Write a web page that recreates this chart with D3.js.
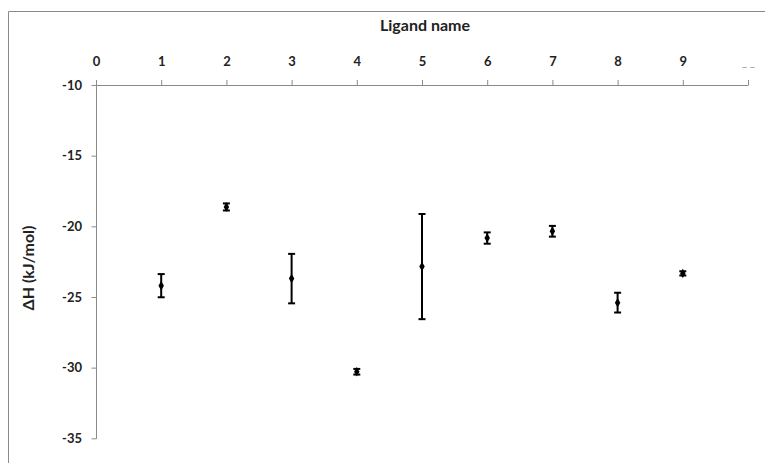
<!DOCTYPE html>
<html><head><meta charset="utf-8">
<script src="https://cdn.jsdelivr.net/npm/d3@7"></script>
<style>body{margin:0;background:#fff}svg{display:block}text{font-family:Lato,"Open Sans",sans-serif;font-weight:bold}</style>
</head><body>
<svg id="c" width="765" height="463"></svg>
<script>
const ligands = [1,2,3,4,5,6,7,8,9];
const dH = [-24.2,-18.63,-23.7,-30.29,-22.85,-20.83,-20.35,-25.4,-23.33];
const err = [0.82,0.25,1.75,0.2,3.72,0.4,0.38,0.7,0.15];
const xTicks = [0,1,2,3,4,5,6,7,8,9,10];
const xTickLabels = ["0","1","2","3","4","5","6","7","8","9","_ _"];
const yTicks = [-10,-15,-20,-25,-30,-35];

const svg = d3.select("#c");
const x = d3.scaleLinear().domain([0,10]).range([96,748]);
const y = d3.scaleLinear().domain([-10,-35]).range([85,438.3]);

// border
svg.append("path").attr("d","M8.5,463 V11.5 H765").attr("fill","none").attr("stroke","#8a8a8a").attr("stroke-width",1);

const xAxis = svg.append("g").attr("transform",`translate(0,${y(-10)})`)
  .call(d3.axisTop(x).tickValues(xTicks).tickSize(5).tickPadding(14).tickFormat((d,i)=>xTickLabels[i]));
const yAxis = svg.append("g").attr("transform",`translate(${x(0)},0)`)
  .call(d3.axisLeft(y).tickValues(yTicks).tickSize(5).tickPadding(9).tickFormat(d=>String(d)));
[xAxis,yAxis].forEach(a=>{
  a.select(".domain").attr("stroke","#8a8a8a").attr("d", a===xAxis ? `M${x(0)+0.5},0.5H${x(10)+0.5}` : `M0.5,${y(-10)}V${y(-35)+0.5}`);
  a.selectAll(".tick line").attr("stroke","#8a8a8a");
  a.selectAll(".tick text").attr("fill","#222").attr("font-size",13).attr("font-family","Lato,sans-serif").attr("font-weight","bold");
});
yAxis.selectAll(".tick line").attr("transform","translate(0.5,0)");
xAxis.selectAll(".tick text").filter((d)=>d===10).attr("fill","#aaa").attr("font-weight","normal").attr("font-size",11);

svg.append("text").attr("x",425).attr("y",31).attr("text-anchor","middle").attr("font-size",16).attr("fill","#222").text("Ligand name");
svg.append("text").attr("transform","translate(34,268) rotate(-90)").attr("text-anchor","middle").attr("font-size",16).attr("fill","#222").text("ΔH (kJ/mol)");

const g = svg.append("g");
ligands.forEach((l,i)=>{
  const cx = x(l), top = y(dH[i]+err[i]), bot = y(dH[i]-err[i]);
  g.append("line").attr("x1",cx).attr("x2",cx).attr("y1",top).attr("y2",bot).attr("stroke","#000").attr("stroke-width",2);
  [top,bot].forEach(yy=>g.append("line").attr("x1",cx-3.5).attr("x2",cx+3.5).attr("y1",yy).attr("y2",yy).attr("stroke","#000").attr("stroke-width",2));
});
g.selectAll("path.pt").data(ligands).join("path").attr("class","pt")
  .attr("transform",(d,i)=>`translate(${x(d)},${y(dH[i])})`)
  .attr("d",d3.symbol().type(d3.symbolDiamond).size(26)).attr("fill","#000");
</script>
</body></html>
